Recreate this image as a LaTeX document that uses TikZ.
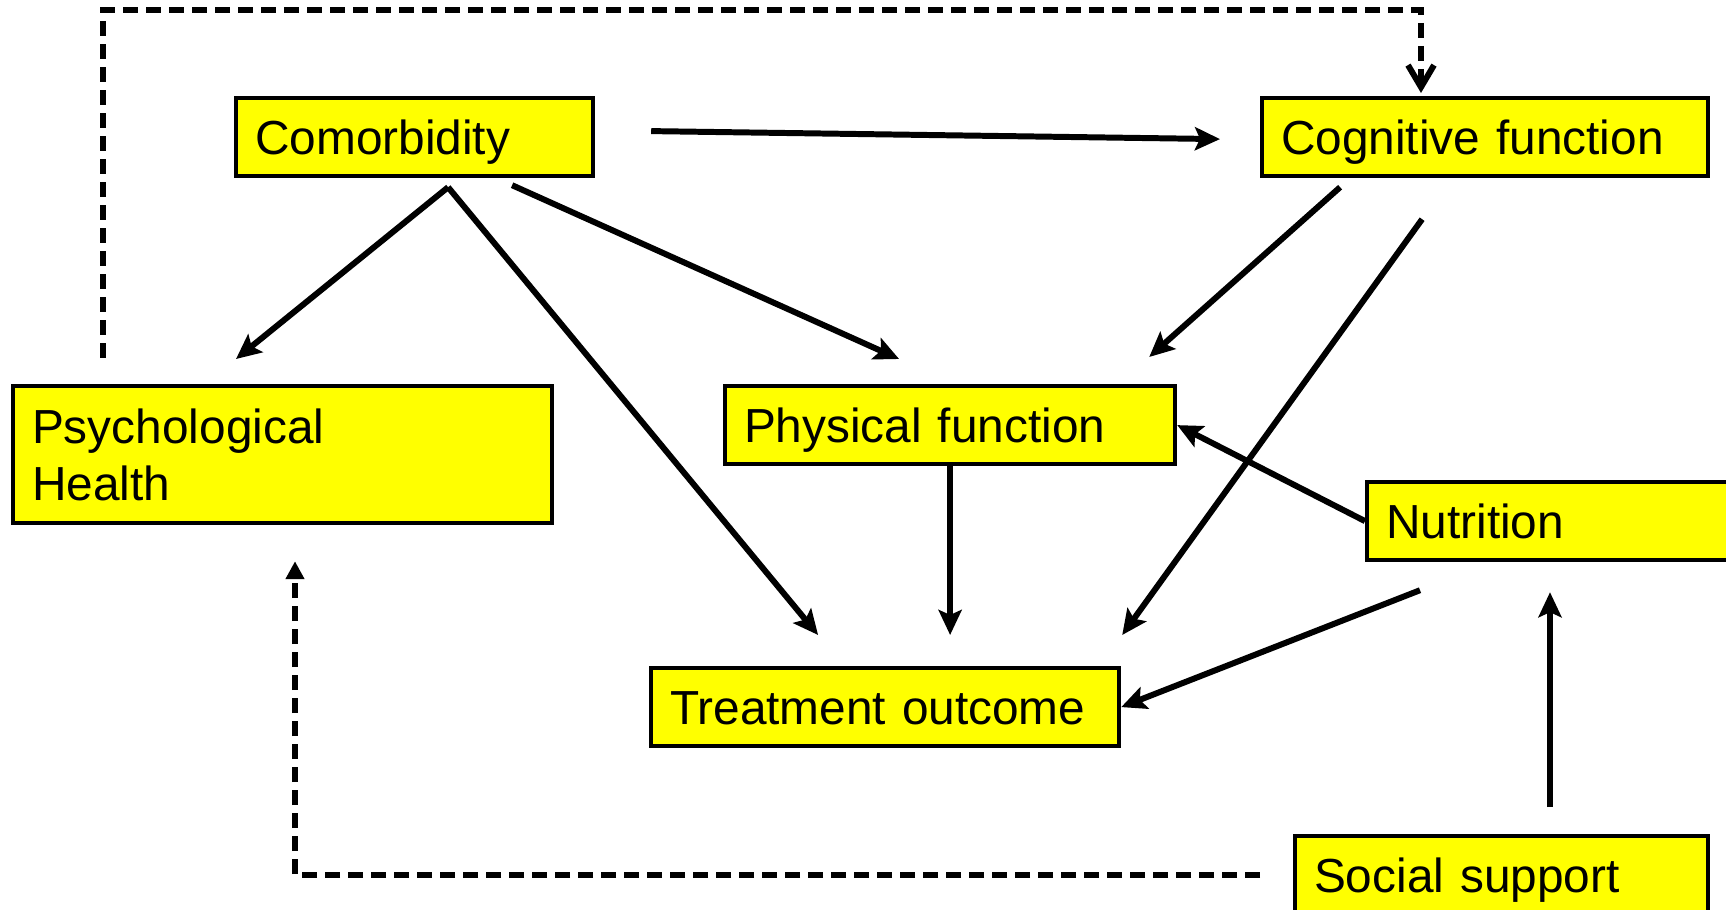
\documentclass[tikz,border=0pt]{standalone}
\usepackage{fontspec}
\setmainfont{Liberation Sans}
\usepackage{xcolor}
\usepackage{tikz}
\usetikzlibrary{arrows.meta,calc}

\definecolor{boxyellow}{RGB}{255,255,0}

\begin{document}
\begin{tikzpicture}[x=1mm,y=-1mm,
    factor/.style={draw, fill=boxyellow, line width=1.2pt, anchor=north west,
      inner xsep=1.9mm, inner ysep=0pt, minimum height=7.8mm, align=left,
      text height=3.5mm, text depth=0pt,
      font=\fontsize{13.6}{16.2}\selectfont},
    link/.style={line width=1.7pt, -{Stealth[length=2.5mm,width=2.3mm,inset=0.5mm]}},
    dashlink/.style={line width=1.7pt, dash pattern=on 1.5mm off 0.8mm}]
  \useasboundingbox (0,0) rectangle (172.6,91);
  \clip (0,0) rectangle (172.6,91);
  % factors
  \node[factor, text width=31.9mm] (com) at (23.4,9.6) {Comorbidity};
  \node[factor, text width=40.8mm] (cog) at (126,9.6) {Cognitive function};
  \node[factor, text width=50.1mm, minimum height=13.7mm, text depth=5.7mm] (psy) at (1.1,38.4) {Psychological\\Health};
  \node[factor, text width=41.2mm] (phy) at (72.3,38.4) {Physical function};
  \node[factor, text width=38.2mm] (nut) at (136.5,48) {Nutrition};
  \node[factor, text width=43.0mm] (trt) at (64.9,66.6) {Treatment outcome};
  \node[factor, text width=37.5mm] (soc) at (129.3,83.4) {Social support};
  % solid paths
  \coordinate (fork) at ([xshift=3.35mm,yshift=-0.9mm]com.south);
  \coordinate (nutin) at ([xshift=18.5mm,yshift=-3mm]nut.south west);
  \draw[link] ([xshift=5.6mm,yshift=0.6mm]com.east) -- ([xshift=-4mm,yshift=-0.2mm]cog.west);
  \draw[link] (fork) -- ([xshift=22.5mm,yshift=2.5mm]psy.north west);
  \draw[link] (fork) -- ([xshift=-6.7mm,yshift=3.1mm]trt.north);
  \draw[link] ([xshift=9.75mm,yshift=-0.7mm]com.south) -- ([xshift=-5.1mm,yshift=2.5mm]phy.north);
  \draw[link] ([xshift=-14.5mm,yshift=-0.9mm]cog.south) -- ([xshift=-2.8mm,yshift=2.7mm]phy.north east);
  \draw[link] ([xshift=-6.3mm,yshift=-4.1mm]cog.south) -- ([xshift=0.1mm,yshift=3.1mm]trt.north east);
  \draw[link] (nut.west) -- (phy.east);
  \draw[link, shorten >=3.1mm] (phy.south) -- (phy.south |- trt.north);
  \draw[link] ([xshift=5.5mm,yshift=-2.8mm]nut.south west) -- (trt.east);
  \draw[link, shorten <=2.7mm] (soc.north -| nutin) -- (nutin);
  % dashed feedback paths
  \coordinate (ceil) at (0,1.0);
  \coordinate (cogin) at ([xshift=16.1mm,yshift=0.3mm]cog.north west);
  \draw[dashlink, -{Straight Barb[length=2.2mm,width=2.6mm]}]
    ([xshift=9.2mm,yshift=2.6mm]psy.north west) |- (ceil -| cogin) -- (cogin);
  \draw[dashlink, -{Triangle[length=1.8mm,width=1.8mm]}]
    ([xshift=-3.3mm]soc.west) -| ([xshift=28.4mm,yshift=-3.6mm]psy.south west);
\end{tikzpicture}
\end{document}
